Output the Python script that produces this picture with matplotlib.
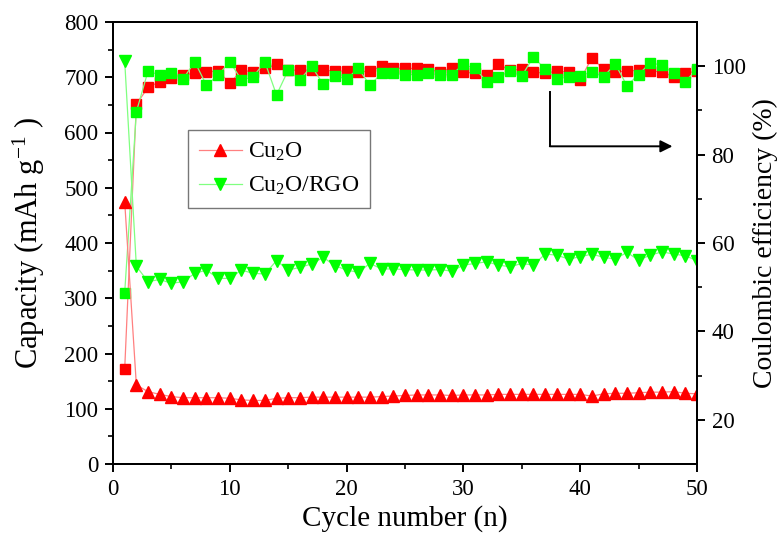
import matplotlib
matplotlib.use("Agg")
import matplotlib.pyplot as plt
import numpy as np

plt.rcParams['font.family'] = ['Liberation Serif', 'DejaVu Serif']
plt.rcParams['mathtext.fontset'] = 'custom'
plt.rcParams['mathtext.rm'] = 'Liberation Serif'
plt.rcParams['mathtext.it'] = 'Liberation Serif:italic'

cycles = list(range(1, 51))

cap_cu2o = [475, 143, 131, 126, 122, 120, 120, 120, 120, 119,
            116, 115, 115, 119, 120, 120, 121, 121, 121, 121,
            121, 121, 122, 123, 124, 125, 125, 125, 124, 125,
            125, 125, 126, 126, 126, 126, 126, 126, 126, 126,
            123, 127, 128, 128, 129, 130, 130, 131, 128, 127]

cap_rgo = [730, 358, 330, 334, 327, 330, 345, 351, 336, 336,
           351, 345, 344, 368, 351, 356, 362, 374, 359, 351,
           347, 363, 353, 353, 352, 351, 351, 352, 349, 360,
           363, 366, 360, 357, 363, 360, 380, 378, 371, 375,
           380, 374, 371, 383, 369, 378, 384, 380, 377, 368]

ce_cu2o = [31.4, 91.4, 95.2, 96.5, 97.4, 98.0, 98.4, 98.6, 99.0, 96.1,
           99.1, 98.7, 99.5, 100.4, 99.1, 99.1, 99.1, 99.1, 98.9, 98.9,
           98.7, 98.9, 100.0, 99.6, 99.5, 99.5, 99.3, 98.7, 99.6, 98.7,
           98.4, 98.0, 100.4, 99.1, 99.3, 98.7, 98.4, 98.9, 98.7, 96.9,
           101.9, 99.3, 98.7, 98.9, 99.1, 98.9, 98.7, 97.6, 98.4, 98.9]

ce_rgo = [48.7, 89.7, 98.9, 98.0, 98.4, 97.1, 101.0, 95.7, 98.0, 101.0,
          96.9, 97.6, 101.0, 93.5, 99.1, 96.9, 100.0, 95.9, 97.8, 97.1,
          99.5, 95.7, 98.4, 98.4, 98.1, 98.1, 98.4, 98.0, 98.1, 100.4,
          99.5, 96.5, 97.6, 98.9, 97.8, 102.1, 99.3, 97.1, 97.6, 97.8,
          98.7, 97.6, 100.5, 95.6, 98.1, 100.8, 100.2, 98.4, 96.5, 99.4]

RED = '#ff0000'
GREEN = '#00ff00'
LRED = '#ff8080'
LGREEN = '#80ff80'

fig = plt.figure(figsize=(7.81, 5.36), dpi=100)
ax = fig.add_axes([113/781, 1 - 464/536, (697-113)/781, (464-22)/536])
ax2 = ax.twinx()

# Coulombic efficiency (squares) on right axis
ax2.plot(cycles, ce_cu2o, color=LRED, lw=0.9, marker='s', ms=7.5,
         mfc=RED, mec=RED, zorder=2)
ax2.plot(cycles, ce_rgo, color=LGREEN, lw=0.9, marker='s', ms=7.5,
         mfc=GREEN, mec=GREEN, zorder=3)

# Capacity (triangles) on left axis
ax.plot(cycles, cap_cu2o, color=LRED, lw=0.9, marker='^', ms=9,
        mfc=RED, mec=RED, label='Cu$_2$O')
ax.plot(cycles, cap_rgo, color=LGREEN, lw=0.9, marker='v', ms=9,
        mfc=GREEN, mec=GREEN, label='Cu$_2$O/RGO')

ax.set_xlim(0, 50)
ax.set_ylim(0, 800)
ax2.set_ylim(10, 110)

ax.set_xticks([0, 10, 20, 30, 40, 50])
ax.set_xticks(np.arange(5, 50, 10), minor=True)
ax.set_yticks(np.arange(0, 801, 100))
ax.set_yticks(np.arange(50, 800, 100), minor=True)
ax2.set_yticks([20, 40, 60, 80, 100])
ax2.set_yticks([30, 50, 70, 90], minor=True)

for a in (ax, ax2):
    for s in a.spines.values():
        s.set_linewidth(1.4)
    a.tick_params(which='major', direction='out', length=6, width=1.4,
                  labelsize=16.5, pad=4.5)
    a.tick_params(which='minor', direction='out', length=3.5, width=1.2)
ax.tick_params(axis='x', top=False)
ax.tick_params(axis='y', right=False)

ax.set_xlabel('Cycle number (n)', fontsize=21, labelpad=4)
ax.set_ylabel('Capacity (mAh g$^{-1}$ )', fontsize=22)
ax.yaxis.set_label_coords(-0.113, 0.5)
ax2.set_ylabel('Coulombic efficiency (%)', fontsize=20)
ax2.yaxis.set_label_coords(1.096, 0.5)

ax.set_zorder(ax2.get_zorder() + 1)
ax.patch.set_visible(False)

leg = ax.legend(loc='upper left', bbox_to_anchor=(0.1284, 0.755),
                fontsize=17, frameon=True, fancybox=False,
                handlelength=1.85, handletextpad=0.25, borderpad=0.45,
                labelspacing=0.5, borderaxespad=0)
leg.get_frame().set_edgecolor('#555555')
leg.get_frame().set_linewidth(1.0)

# Arrow pointing to right axis
ax.plot([37.4, 37.4], [673, 575], color='black', lw=1.4)
ax.annotate('', xy=(47.9, 575), xytext=(37.4, 575),
            arrowprops=dict(arrowstyle='-|>', color='black', lw=1.4,
                            mutation_scale=18, shrinkA=0, shrinkB=0))

fig.savefig('out.png', dpi=100)
